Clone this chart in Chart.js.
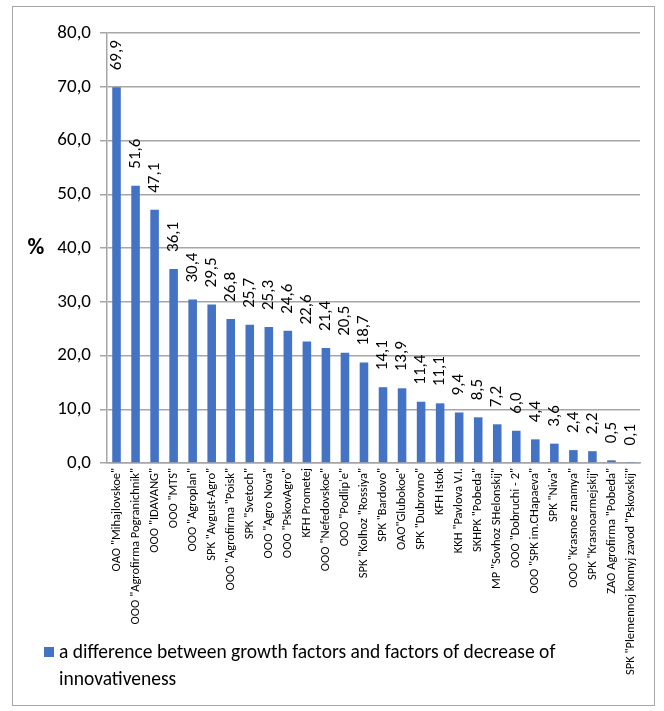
<!DOCTYPE html>
<html>
<head>
<meta charset="utf-8">
<script src="https://cdn.jsdelivr.net/npm/chart.js@4.4.1/dist/chart.umd.min.js"></script>
<style>
  body { margin: 0; background: #fff; }
  #box { position: absolute; left: 12px; top: 6px; width: 641px; height: 698px; border: 1px solid #a6a6a6; }
  canvas { display: block; }
</style>
</head>
<body>
<div id="box"><canvas id="grafica" width="641" height="698"></canvas></div>
<script>
const labels = ['OAO "Mihajlovskoe"', 'OOO "Agrofirma Pogranichnik"', 'OOO "IDAVANG"', 'OOO "MTS"',
  'OOO "Agroplan"', 'SPK "Avgust-Agro"', 'OOO "Agrofirma "Poisk"', 'SPK "Svetoch"', 'OOO "Agro Nova"',
  'OOO "PskovAgro"', 'KFH Prometej', 'OOO "Nefedovskoe"', 'OOO "Podlip\'e"', 'SPK "Kolhoz "Rossiya"',
  'SPK "Bardovo"', 'OAO"Glubokoe"', 'SPK "Dubrovno"', 'KFH Istok', 'KKH "Pavlova V.I.', 'SKHPK "Pobeda"',
  'MP "Sovhoz SHelonskij"', 'OOO "Dobruchi - 2"', 'OOO "SPK im.CHapaeva"', 'SPK "Niva"',
  'OOO "Krasnoe znamya"', 'SPK "Krasnoarmejskij"', 'ZAO Agrofirma "Pobeda"',
  'SPK "Plemennoj konnyj zavod "Pskovskij"']
const values = [69.9, 51.6, 47.1, 36.1, 30.4, 29.5, 26.8, 25.7, 25.3, 24.6, 22.6, 21.4, 20.5, 18.7,
  14.1, 13.9, 11.4, 11.1, 9.4, 8.5, 7.2, 6.0, 4.4, 3.6, 2.4, 2.2, 0.5, 0.1]
const seriesName = 'a difference between growth factors and factors of decrease of innovativeness'
const axisTitle = '%'

const FONT = 'Carlito, Calibri, Lato, "Open Sans", sans-serif'
const comma = v => v.toFixed(1).replace('.', ',')

// value labels above the bars, rotated
const barLabels = {
  id: 'barLabels',
  afterDatasetsDraw(chart) {
    const ctx = chart.ctx
    const meta = chart.getDatasetMeta(0)
    ctx.save()
    ctx.font = '17px ' + FONT
    ctx.fillStyle = '#000'
    ctx.textAlign = 'left'
    ctx.textBaseline = 'middle'
    meta.data.forEach((bar, i) => {
      ctx.save()
      ctx.translate(bar.x, bar.y - 17)
      ctx.rotate(-Math.PI / 2)
      ctx.fillText(comma(values[i]), 0, 0)
      ctx.restore()
    })
    ctx.restore()
  }
}

// "%" title and wrapped legend
const extras = {
  id: 'extras',
  afterDraw(chart) {
    const ctx = chart.ctx
    const area = chart.chartArea
    ctx.save()
    ctx.fillStyle = '#000'
    ctx.font = 'bold 23px ' + FONT
    ctx.textAlign = 'center'
    ctx.textBaseline = 'middle'
    ctx.fillText(axisTitle, 23, (area.top + area.bottom) / 2)

    ctx.fillStyle = '#4472C4'
    ctx.fillRect(31, 640, 10, 10)
    ctx.fillStyle = '#000'
    ctx.font = '19.5px ' + FONT
    ctx.textAlign = 'left'
    ctx.textBaseline = 'middle'
    const words = seriesName.split(' ')
    let line = ''
    let y = 646
    words.forEach(w => {
      const test = line ? line + ' ' + w : w
      if (ctx.measureText(test).width > 560 && line) {
        ctx.fillText(line, 46, y)
        line = w
        y += 27
      } else {
        line = test
      }
    })
    ctx.fillText(line, 46, y)
    ctx.restore()
  }
}

new Chart(document.querySelector('#grafica'), {
  type: 'bar',
  data: {
    labels: labels,
    datasets: [{
      label: seriesName,
      data: values,
      backgroundColor: '#4472C4',
      barPercentage: 0.45,
      categoryPercentage: 1
    }]
  },
  options: {
    responsive: false,
    animation: false,
    layout: { padding: { top: 26, right: 14, bottom: 0, left: 0 } },
    plugins: { legend: { display: false }, tooltip: { enabled: false } },
    scales: {
      x: {
        grid: { display: false, drawTicks: false },
        border: { color: '#a6a6a6', width: 1.5 },
        ticks: {
          minRotation: 90, maxRotation: 90, autoSkip: false, padding: 5,
          color: '#000', font: { family: FONT, size: 12.5 }
        },
        afterFit(scale) { scale.height = 242 }
      },
      y: {
        min: 0, max: 80,
        grid: { color: '#a6a6a6', lineWidth: 1.5, tickLength: 7 },
        border: { color: '#a6a6a6', width: 1.5 },
        ticks: {
          stepSize: 10, padding: 9, color: '#000',
          font: { family: FONT, size: 19 },
          callback: v => comma(v)
        },
        afterFit(scale) { scale.width = 94 }
      }
    }
  },
  plugins: [barLabels, extras]
});
</script>
</body>
</html>
